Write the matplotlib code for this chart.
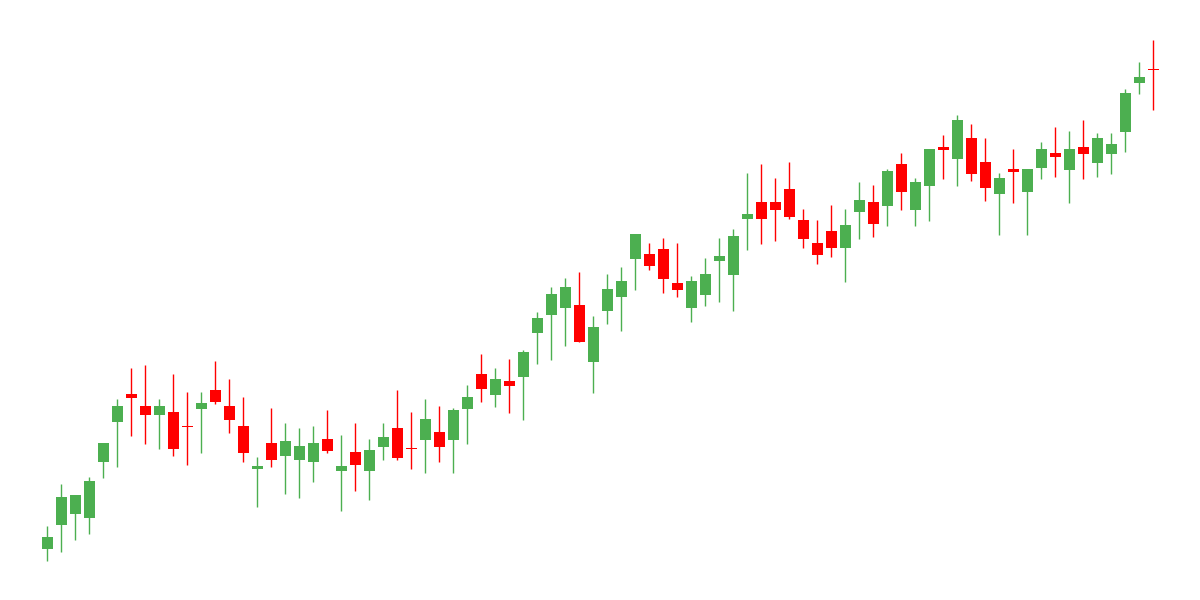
import matplotlib
matplotlib.use("Agg")
import matplotlib.pyplot as plt
import numpy as np

# OHLC (arbitrary price units)
opens = [51.3, 75.3, 86.3, 82.3, 138.3, 178.3, 206, 194, 185.3, 188,
         174, 191.3, 210, 194, 174, 131.3, 157, 144.3, 140.3, 138.3,
         161, 129.3, 148, 129.3, 153.3, 172, 152, 160.3, 168, 160.3,
         191.3, 226, 205.3, 219, 223.3, 267.3, 285.3, 292.3, 295, 238.3,
         289.3, 303.3, 341.3, 346, 351, 317, 292.3, 305.3, 339.3, 325.3,
         381.3, 398, 398, 411, 380, 357, 369, 352.3, 388.3, 398,
         394.3, 436, 390.3, 414.3, 453, 441.3, 462, 438, 406.3, 431,
         408.3, 432.3, 447, 430.3, 453, 437.3, 446.3, 468.3, 517.3, 531]
highs = [74, 116, 105, 123, 157, 201, 232, 235, 201, 226,
         208, 208, 239, 221, 203, 143, 192, 177, 172, 174,
         190, 165, 177, 161, 177, 210, 188, 201, 194, 192,
         215, 246, 232, 241, 250, 288, 313, 322, 328, 284,
         326, 333, 366, 357, 362, 357, 324, 342, 362, 371,
         427, 436, 422, 438, 391, 380, 395, 391, 418, 415,
         431, 447, 422, 451, 465, 485, 476, 462, 427, 451,
         431, 458, 473, 469, 480, 467, 467, 511, 538, 560]
lows = [39.3, 48.3, 60.3, 66.3, 122.3, 133.3, 164.3, 156.3, 151.3, 144.3,
        135.3, 147.3, 196.3, 167.3, 138.3, 93.3, 133.3, 106.3, 102.3, 118.3,
        147.3, 89.3, 109.3, 100.3, 140.3, 140.3, 131.3, 127.3, 138.3, 127.3,
        156.3, 198.3, 193.3, 187.3, 180.3, 236.3, 240.3, 254.3, 258, 207.3,
        276.3, 269.3, 310.3, 330.3, 307.3, 303.3, 278.3, 294.3, 298.3, 289.3,
        350.3, 356.3, 359.3, 381.3, 352.3, 336.3, 343.3, 318.3, 361.3, 363.3,
        374.3, 390.3, 374.3, 379.3, 421.3, 414.3, 419.3, 399.3, 365.3, 397.3,
        365.3, 421.3, 423.3, 397.3, 421.3, 423.3, 426.3, 448.3, 506.3, 490.3]
closes = [63, 103, 105, 119, 157, 194, 202.3, 185.3, 194, 151.3,
          173, 197, 198.3, 180.3, 147.3, 134, 140.3, 159, 154, 157,
          149.3, 134, 135.3, 150, 163, 142.3, 151, 181, 153.3, 190,
          203, 211.3, 221, 214.3, 248, 282, 306, 313, 258.3, 273,
          311, 319, 366, 334.3, 321.3, 310.3, 319, 326, 344, 364,
          386, 381.3, 390.3, 383.3, 361.3, 345.3, 352.3, 375, 400, 376.3,
          429, 408.3, 418, 451, 450, 480, 426.3, 412.3, 422, 428.3,
          431, 451, 443.3, 451, 446.3, 462, 456, 507, 523, 530]

up_color = "#4CAF50"
down_color = "#FF0000"


def draw_candles(ax, o, h, l, c):
    x = np.arange(len(o))
    o, h, l, c = map(np.asarray, (o, h, l, c))
    colors = np.where(c >= o, up_color, down_color)
    ax.vlines(x, l, h, colors=colors, linewidth=1.0)
    bottoms = np.minimum(o, c)
    heights = np.maximum(np.abs(c - o), 1.0)
    ax.bar(x, heights, bottom=bottoms, width=0.78, color=colors, linewidth=0)


fig = plt.figure(figsize=(12, 6), dpi=100)
ax = fig.add_axes([0, 0, 1, 1])
draw_candles(ax, opens, highs, lows, closes)

step = 14.0  # pixels per candle
ax.set_xlim(-47.3 / step, -47.3 / step + 1200 / step)
ax.set_ylim(0, 600)
ax.axis("off")

fig.savefig("out.png", dpi=100, facecolor="white")
